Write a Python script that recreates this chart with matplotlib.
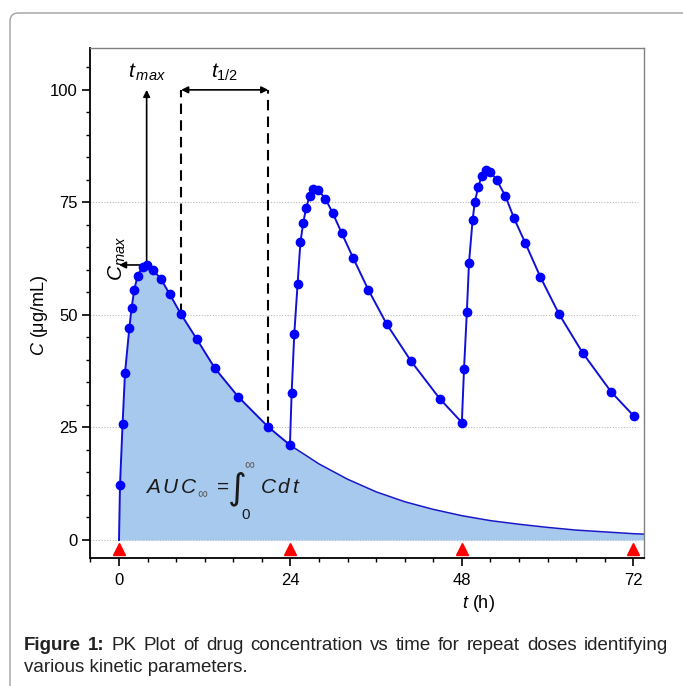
import matplotlib
matplotlib.use("Agg")
import matplotlib.pyplot as plt
from matplotlib.patches import FancyBboxPatch
from matplotlib.ticker import MultipleLocator

plt.rcParams['font.family'] = ['Liberation Sans', 'DejaVu Sans']
plt.rcParams['mathtext.fontset'] = 'custom'
plt.rcParams['mathtext.rm'] = 'Liberation Sans'
plt.rcParams['mathtext.it'] = 'Liberation Sans:italic'
plt.rcParams['mathtext.bf'] = 'Liberation Sans:bold'

# ---- data ----
# first dose (t in h, C in ug/mL)
dose1_t = [0, 0.14, 0.5, 0.84, 1.44, 1.77, 2.14, 2.6, 3.3, 3.87, 4.8, 5.9, 7.1, 8.7, 10.9, 13.4, 16.7, 20.9, 23.93]
dose1_c = [0, 12.2, 25.7, 37.1, 47.0, 51.6, 55.6, 58.7, 60.7, 61.1, 60.0, 57.9, 54.6, 50.1, 44.6, 38.2, 31.8, 25.1, 21.1]

# second dose
dose2_t = [24.17, 24.54, 25.0, 25.4, 25.8, 26.2, 26.7, 27.2, 27.9, 28.9, 29.9, 31.2, 32.8, 34.9, 37.5, 40.9, 44.9, 48.0]
dose2_c = [32.7, 45.8, 56.8, 66.2, 70.5, 73.8, 76.5, 77.9, 77.7, 75.8, 72.7, 68.1, 62.6, 55.6, 47.9, 39.7, 31.4, 26.1]

# third dose
dose3_t = [48.3, 48.7, 49.0, 49.5, 49.8, 50.3, 50.8, 51.4, 52.0, 52.9, 54.1, 55.3, 56.9, 59.0, 61.6, 64.9, 68.9, 72.1]
dose3_c = [37.9, 50.7, 61.6, 71.0, 75.0, 78.5, 80.9, 82.1, 81.8, 79.9, 76.4, 71.5, 65.9, 58.4, 50.2, 41.6, 32.9, 27.5]

# single-dose tail after 24 h (AUC curve)
tail_t = [23.93, 28, 32, 36, 40, 44, 48, 52, 56, 60, 64, 68, 72, 73.5]
tail_c = [21.1, 16.9, 13.5, 10.7, 8.5, 6.8, 5.4, 4.3, 3.5, 2.8, 2.2, 1.8, 1.4, 1.3]

dose_times = [0, 24, 48, 72]
grid_levels = [0, 25, 50, 75]

t_max, c_max = 3.87, 61.1
half_a, half_b = 8.7, 20.9

fig = plt.figure(figsize=(6.83, 6.86), dpi=100)

# outer rounded frame (cut by the figure edge on right/bottom)
frame = FancyBboxPatch((10/683, -0.1), 1.2, 1 - 13/686 + 0.1,
                       boxstyle="round,pad=0,rounding_size=0.012",
                       transform=fig.transFigure, fill=False,
                       edgecolor='#a0a0a0', lw=1.0, clip_on=False)
fig.patches.append(frame)

ax = fig.add_axes([90/683, 1 - 558/686, 554/683, 510/686])
ax.set_xlim(-4.06, 73.5)
ax.set_ylim(-4.0, 109.3)

# dotted grid
ax.hlines(grid_levels, -4.06, 72.6, colors='#b8b8b8', linestyles=(0, (1, 1.5)), lw=0.8, zorder=0)

# AUC area
auc_t = dose1_t + tail_t[1:]
auc_c = dose1_c + tail_c[1:]
ax.fill_between(auc_t, auc_c, 0, color='#a8c9ee', lw=0, zorder=1)
ax.plot(tail_t, tail_c, color='#1818c8', lw=1.1, zorder=2)

# repeat dose curve
all_t = dose1_t + dose2_t + dose3_t
all_c = dose1_c + dose2_c + dose3_c
ax.plot(all_t, all_c, '-', color='#1010d8', lw=1.4, zorder=3)
ax.plot(all_t[1:], all_c[1:], 'o', color='#0000ff', ms=6, zorder=4)

# dosing markers
ax.plot(dose_times, [-1.9] * len(dose_times), '^', color='#ff0000', ms=9, clip_on=False, zorder=5)

# tmax / Cmax arrows
ap = dict(arrowstyle='-|>', color='black', lw=1.2, mutation_scale=10, shrinkA=0, shrinkB=0)
ax.annotate('', xy=(t_max, 100), xytext=(t_max, c_max), arrowprops=ap)
ax.annotate('', xy=(0, c_max), xytext=(t_max, c_max), arrowprops=ap)

# half-life markers
ax.plot([half_a, half_a], [50.1, 100], color='black', ls=(0, (5, 3)), lw=1.5, zorder=2)
ax.plot([half_b, half_b], [25.1, 100], color='black', ls=(0, (5, 3)), lw=1.5, zorder=2)
ax.annotate('', xy=(half_b, 100), xytext=(half_a, 100),
            arrowprops=dict(arrowstyle='<|-|>', color='black', lw=1.2, mutation_scale=10,
                            shrinkA=0, shrinkB=0))

ax.text(t_max, 103.8, r'$t_{\,max}$', fontsize=15, ha='center', va='center')
ax.text((half_a + half_b) / 2, 104, r'$t_{1/2}$', fontsize=15, ha='center', va='center')
ax.text(-0.3, 62.5, r'$C_{max}$', fontsize=15, ha='center', va='center', rotation=90)

# AUC formula, built from pieces so the integral sign is tall
ink = '#1a1a1a'
ax.text(3.7, 11.6, r'$A\,U\,C$', fontsize=15, ha='left', va='center', color=ink)
ax.text(11.0, 10.2, '∞', fontsize=10, ha='left', va='center', color='#555555')
ax.text(14.6, 11.8, '=', fontsize=15, ha='center', va='center', color=ink)
ax.text(16.6, 11.4, '∫', fontsize=26, ha='center', va='center', color=ink,
        family=['DejaVu Sans'])
ax.text(18.3, 16.6, '∞', fontsize=10, ha='center', va='center', color='#555555')
ax.text(17.7, 5.6, '0', fontsize=11, ha='center', va='center', color=ink)
ax.text(19.7, 11.6, r'$C\,d\,t$', fontsize=15, ha='left', va='center', color=ink)

# axes styling
for s in ['top', 'right']:
    ax.spines[s].set_color('#808080')
    ax.spines[s].set_linewidth(1.0)
for s in ['left', 'bottom']:
    ax.spines[s].set_color('black')
    ax.spines[s].set_linewidth(1.3)

ax.set_xticks(dose_times)
ax.set_yticks([0, 25, 50, 75, 100])
ax.xaxis.set_minor_locator(MultipleLocator(4))
ax.yaxis.set_minor_locator(MultipleLocator(5))
ax.tick_params(which='major', direction='out', length=6, width=1.2, labelsize=12)
ax.tick_params(which='minor', direction='out', length=3, width=1.0)
ax.tick_params(axis='x', which='major', pad=5)
ax.tick_params(axis='y', which='major', pad=3)

fig.text(40/683, 1 - 315/686, r'$C$ (μg/mL)', fontsize=13, rotation=90, ha='center', va='center')
fig.text(478/683, 1 - 603/686, r'$t$ (h)', fontsize=13, ha='center', va='center')

# caption, first line justified
fig.canvas.draw()
r = fig.canvas.get_renderer()
words = [("Figure", 'bold'), ("1:", 'bold'), ("PK", 'normal'), ("Plot", 'normal'), ("of", 'normal'),
         ("drug", 'normal'), ("concentration", 'normal'), ("vs", 'normal'), ("time", 'normal'),
         ("for", 'normal'), ("repeat", 'normal'), ("doses", 'normal'), ("identifying", 'normal')]
x0, x1, y1 = 24, 668, 1 - 645/686
cap_size = 13.5
items = []
for w, fw in words:
    t = fig.text(0, y1, w, fontsize=cap_size, fontweight=fw, ha='left', va='center', color='#222222')
    items.append(t)
widths = [t.get_window_extent(r).width for t in items]
gap = (x1 - x0 - sum(widths)) / (len(items) - 1)
x = x0
for t, wd in zip(items, widths):
    t.set_x(x / 683)
    x += wd + gap
fig.text(x0/683, 1 - 668/686, "various kinetic parameters.", fontsize=cap_size,
         ha='left', va='center', color='#222222')

fig.savefig("out.png", dpi=100)
